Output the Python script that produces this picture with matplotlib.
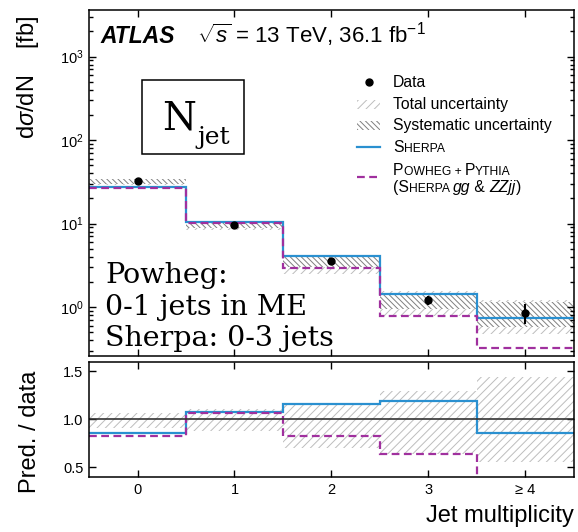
import matplotlib
matplotlib.use("Agg")
import matplotlib.pyplot as plt
from matplotlib.patches import Rectangle
import numpy as np

plt.rcParams['font.family'] = ['Liberation Sans', 'DejaVu Sans']
plt.rcParams['mathtext.fontset'] = 'custom'
plt.rcParams['mathtext.rm'] = 'Liberation Sans'
plt.rcParams['mathtext.it'] = 'Liberation Sans:italic'
plt.rcParams['hatch.linewidth'] = 0.7

# jet multiplicity bins
categories = ["0", "1", "2", "3", "≥ 4"]
data = np.array([32.0, 9.6, 3.55, 1.21, 0.855])
stat_err = np.array([1.0, 0.5, 0.3, 0.16, 0.22])
sherpa = np.array([27.3, 10.3, 4.1, 1.44, 0.73])
powheg = np.array([26.4, 10.2, 2.95, 0.78, 0.32])
# relative uncertainties
tot_up = np.array([0.065, 0.105, 0.17, 0.30, 0.44])
tot_dn = np.array([0.09, 0.12, 0.30, 0.36, 0.44])
syst_up = np.array([0.08, 0.06, 0.13, 0.22, 0.35])
syst_dn = np.array([0.07, 0.09, 0.14, 0.22, 0.32])

blue = "#2a90d0"
purple = "#a0309e"
x = np.arange(len(data))
edges = np.arange(len(data) + 1) - 0.5

fig = plt.figure(figsize=(5.78, 5.32), dpi=100)
ax = fig.add_axes([0.154, 0.331, 0.839, 0.650])
ax2 = fig.add_axes([0.154, 0.1034, 0.839, 0.2166])

syst_hatch = '\\\\\\\\\\\\'

# ---- main panel
ax.bar(x, data * (tot_up + tot_dn), bottom=data * (1 - tot_dn), width=1,
       facecolor='none', edgecolor='#bdbdbd', hatch='////', linewidth=0)
ax.bar(x, data * (syst_up + syst_dn), bottom=data * (1 - syst_dn), width=1,
       facecolor='white', edgecolor='#7f7f7f', hatch=syst_hatch, linewidth=0)
ax.stairs(sherpa, edges, color=blue, linewidth=1.6, baseline=None)
ax.stairs(powheg, edges, color=purple, linewidth=1.6, linestyle=(0, (3.5, 2)), baseline=None)
ax.errorbar(x, data, yerr=stat_err, fmt='o', color='black', markersize=5,
            elinewidth=1.5, capsize=0)

ax.set_yscale('log')
ax.set_ylim(0.26, 3600)
ax.set_xlim(edges[0], edges[-1])
ax.set_xticks(x)
ax.set_xticklabels([])
ax.set_ylabel(r"d$\sigma$/dN    [fb]", loc='top', fontsize=17)
ax.yaxis.set_label_coords(-0.10, 0.985)

# ---- ratio panel
ax2.bar(x, tot_up + tot_dn, bottom=1 - tot_dn, width=1,
        facecolor='none', edgecolor='#bdbdbd', hatch='////', linewidth=0)
ax2.axhline(1.0, color='#333333', linewidth=1.2)
ax2.stairs(sherpa / data, edges, color=blue, linewidth=1.6, baseline=None)
ax2.stairs(powheg / data, edges, color=purple, linewidth=1.6, linestyle=(0, (3.5, 2)), baseline=None)
ax2.set_ylim(0.4, 1.6)
ax2.set_xlim(edges[0], edges[-1])
ax2.set_yticks([0.5, 1.0, 1.5])
ax2.set_xticks(x)
ax2.set_xticklabels(categories)
ax2.set_ylabel("Pred. / data", fontsize=17)
ax2.yaxis.set_label_coords(-0.10, 0.39)
ax2.set_xlabel("Jet multiplicity", loc='right', fontsize=17)
ax2.xaxis.set_label_coords(1.0, -0.24)

for a in (ax, ax2):
    a.tick_params(which='both', direction='in', top=True, right=True, width=1)
    a.tick_params(which='major', length=5, labelsize=10.5, pad=4)
    a.tick_params(which='minor', length=3)
    for s in a.spines.values():
        s.set_linewidth(1.1)
ax2.tick_params(axis='y', which='minor', left=False, right=False)
ax2.tick_params(axis='x', which='minor', bottom=False, top=False)
ax.tick_params(axis='x', which='minor', bottom=False, top=False)

# ---- labels
ax.text(0.023, 0.925, "ATLAS", transform=ax.transAxes, fontsize=16.5,
        fontweight='bold', fontstyle='italic', va='center')
ax.text(0.222, 0.928, r"$\sqrt{s}$ = 13 TeV, 36.1 fb$^{-1}$", transform=ax.transAxes,
        fontsize=16, va='center')

ax.add_patch(Rectangle((0.109, 0.584), 0.211, 0.214, transform=ax.transAxes,
                       facecolor='white', edgecolor='black', linewidth=1.1))
tN = ax.text(0.150, 0.655, "N", transform=ax.transAxes, fontsize=28,
             family='DejaVu Serif', va='baseline')
ax.annotate("jet", xy=(1, 0), xycoords=tN, xytext=(1, -8), textcoords='offset points',
            fontsize=18, family='DejaVu Serif', va='bottom')

ax.text(0.033, 0.012, "Powheg:\n0-1 jets in ME\nSherpa: 0-3 jets", transform=ax.transAxes,
        fontsize=20.5, family='DejaVu Serif', va='bottom', linespacing=1.2)

# ---- legend (drawn by hand)
hx0, hx1, tx = 0.553, 0.600, 0.627
rows = [0.792, 0.728, 0.665, 0.604, 0.517]
ax.plot([(hx0 + hx1) / 2], [rows[0]], 'o', color='black', markersize=5, transform=ax.transAxes)
ax.add_patch(Rectangle((hx0, rows[1] - 0.013), hx1 - hx0, 0.026, transform=ax.transAxes,
                       facecolor='none', edgecolor='#bdbdbd', hatch='////', linewidth=0))
ax.add_patch(Rectangle((hx0, rows[2] - 0.013), hx1 - hx0, 0.026, transform=ax.transAxes,
                       facecolor='none', edgecolor='#7f7f7f', hatch=syst_hatch, linewidth=0))
ax.plot([hx0, hx1], [rows[3], rows[3]], color=blue, linewidth=1.6, transform=ax.transAxes)
ax.plot([hx0, hx1], [rows[4], rows[4]], color=purple, linewidth=1.6,
        linestyle=(0, (3.5, 2)), transform=ax.transAxes)

lfs = 11.3
ax.text(tx, rows[0], "Data", transform=ax.transAxes, fontsize=lfs, va='center')
ax.text(tx, rows[1], "Total uncertainty", transform=ax.transAxes, fontsize=lfs, va='center')
ax.text(tx, rows[2], "Systematic uncertainty", transform=ax.transAxes, fontsize=lfs, va='center')


def small_caps(x0, y0, parts):
    # parts: list of (text, size, style)
    prev = None
    for txt, size, style in parts:
        if prev is None:
            prev = ax.text(x0, y0, txt, transform=ax.transAxes, fontsize=size,
                           fontstyle=style, va='baseline')
        else:
            prev = ax.annotate(txt, xy=(1, 0), xycoords=prev, fontsize=size,
                               fontstyle=style, va='bottom')
    return prev


S, s = lfs, 8.7
small_caps(tx, rows[3] - 0.013, [("S", S, 'normal'), ("HERPA", s, 'normal')])
small_caps(tx, 0.522, [("P", S, 'normal'), ("OWHEG + ", s, 'normal'), ("P", S, 'normal'),
                       ("YTHIA", s, 'normal')])
small_caps(tx, 0.474, [("(S", S, 'normal'), ("HERPA ", s, 'normal'), ("gg", S, 'italic'),
                       (" & ", S, 'normal'), ("ZZjj", S, 'italic'), (")", S, 'normal')])

fig.savefig("out.png", dpi=100)
